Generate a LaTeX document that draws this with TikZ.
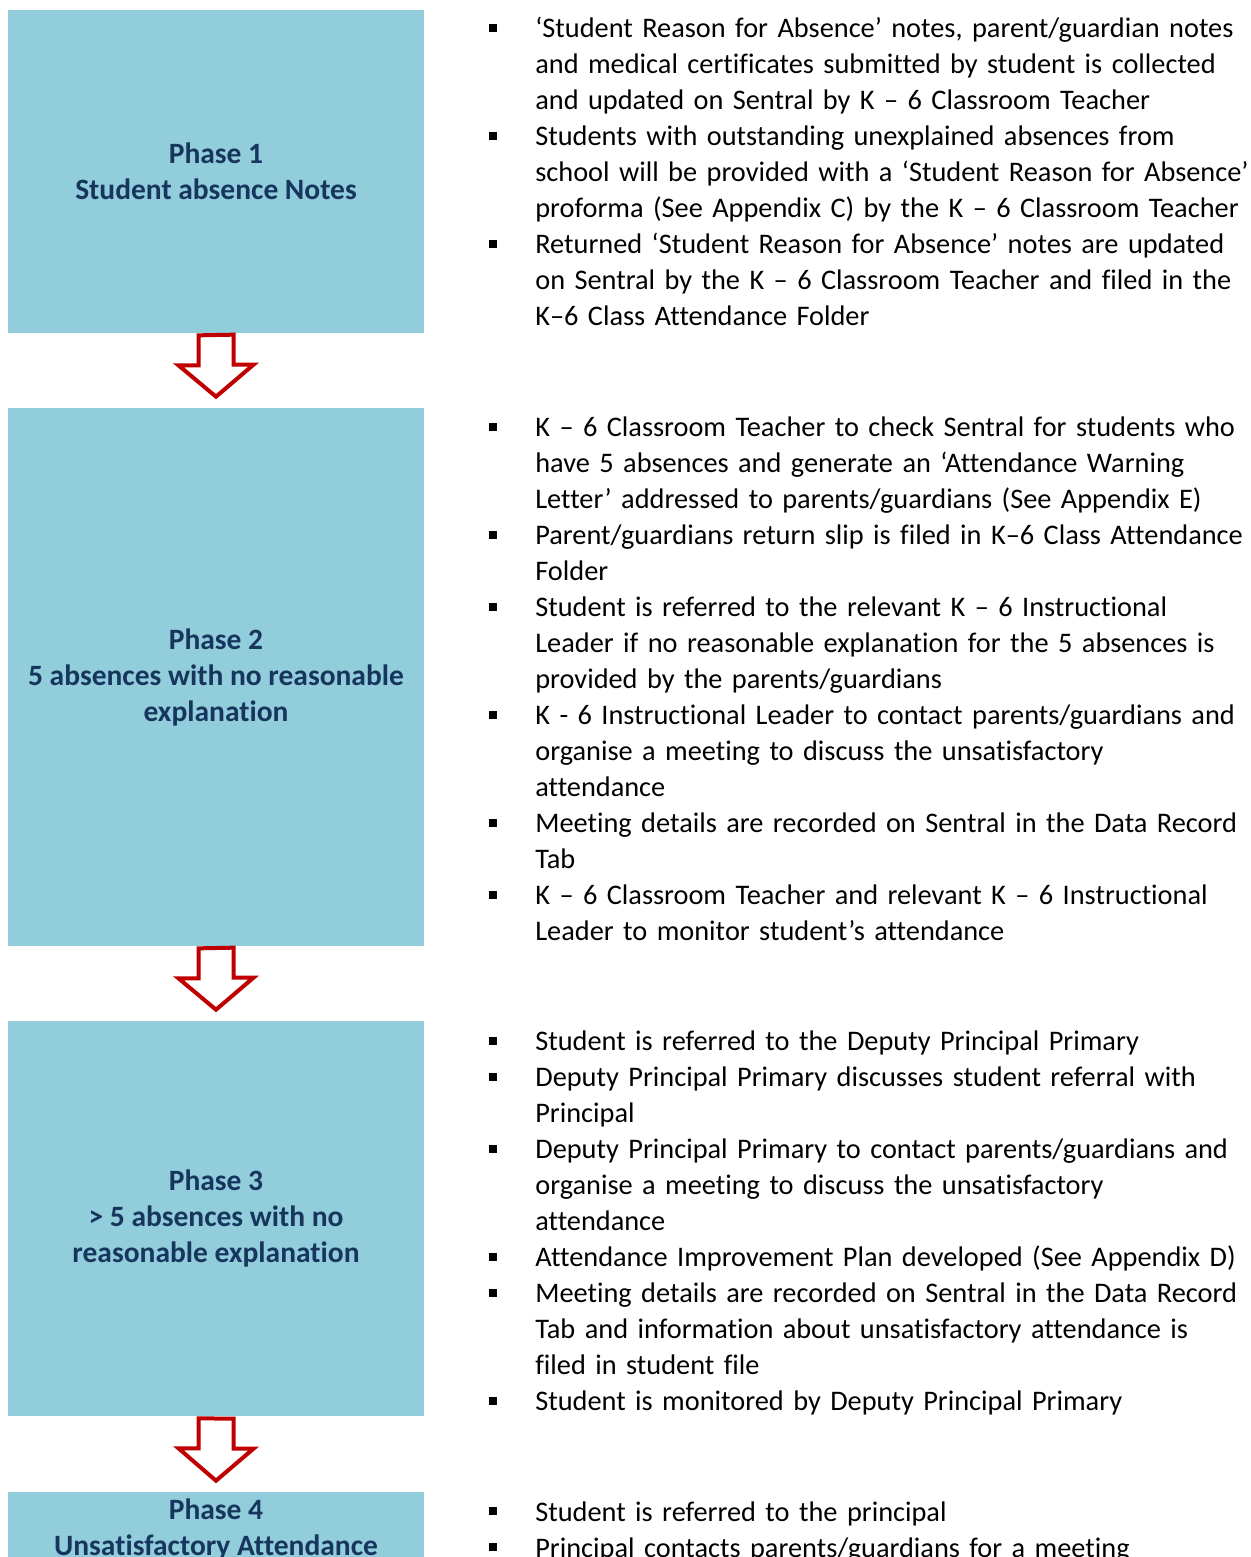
\documentclass[tikz,border=0pt]{standalone}
\usepackage{fontspec}
\setmainfont[Ligatures=NoCommon]{Carlito}
\usepackage{xcolor}
\usetikzlibrary{calc}

\definecolor{phasefill}{HTML}{92CDDC}
\definecolor{phasetext}{HTML}{17365D}
\definecolor{arrowred}{HTML}{C00000}

\newcommand{\sqbullet}{\rule[3.6pt]{4.8pt}{4.8pt}}
\newenvironment{notelist}{\begin{list}{\makebox[27.6pt][l]{\sqbullet}}{%
  \setlength{\leftmargin}{27.6pt}\setlength{\labelwidth}{27.6pt}%
  \setlength{\labelsep}{0pt}\setlength{\itemsep}{0pt}\setlength{\parsep}{0pt}%
  \setlength{\topsep}{0pt}\setlength{\partopsep}{0pt}}}{\end{list}}

\begin{document}
\begin{tikzpicture}[x=0.6pt, y=-0.6pt,
  phase/.style={fill=phasefill, text=phasetext, font=\fontsize{17.7}{21.6}\selectfont\bfseries, align=center, minimum width=249.6pt, inner sep=0pt},
  notes/.style={anchor=north west, text width=520pt, inner sep=0pt, align=left, font=\fontsize{17}{21.6}\selectfont},
  blockarrow/.style={draw=arrowred, fill=white, line width=2.4pt, line join=miter}
]
\useasboundingbox (0,0) rectangle (1250,1557);

% Phase boxes
\node[phase, minimum height=193.8pt] (p1) at (216,171.5) {Phase 1\\Student absence Notes};
\node[phase, minimum height=322.8pt] (p2) at (216,677) {Phase 2\\5 absences with no reasonable\\explanation};
\node[phase, minimum height=237pt] (p3) at (216,1218.5) {Phase 3\\> 5 absences with no\\reasonable explanation};
\node[phase, minimum height=44.4pt] (p4) at (216,1529) {Phase 4\\Unsatisfactory Attendance};

% Notes beside each phase
\node[notes] (n1) at (489,1.5) {\begin{notelist}
\item ‘Student Reason for Absence’ notes, parent/guardian notes\\and medical certificates submitted by student is collected\\and updated on Sentral by K – 6 Classroom Teacher
\item Students with outstanding unexplained absences from\\school will be provided with a ‘Student Reason for Absence’\\proforma (See Appendix C) by the K – 6 Classroom Teacher
\item Returned ‘Student Reason for Absence’ notes are updated\\on Sentral by the K – 6 Classroom Teacher and filed in the\\K–6 Class Attendance Folder
\end{notelist}};

\node[notes] (n2) at (489,400.5) {\begin{notelist}
\item K – 6 Classroom Teacher to check Sentral for students who\\have 5 absences and generate an ‘Attendance Warning\\Letter’ addressed to parents/guardians (See Appendix E)
\item Parent/guardians return slip is filed in K–6 Class Attendance\\Folder
\item Student is referred to the relevant K – 6 Instructional\\Leader if no reasonable explanation for the 5 absences is\\provided by the parents/guardians
\item K - 6 Instructional Leader to contact parents/guardians and\\organise a meeting to discuss the unsatisfactory\\attendance
\item Meeting details are recorded on Sentral in the Data Record\\Tab
\item K – 6 Classroom Teacher and relevant K – 6 Instructional\\Leader to monitor student’s attendance
\end{notelist}};

\node[notes] (n3) at (489,1014.5) {\begin{notelist}
\item Student is referred to the Deputy Principal Primary
\item Deputy Principal Primary discusses student referral with\\Principal
\item Deputy Principal Primary to contact parents/guardians and\\organise a meeting to discuss the unsatisfactory\\attendance
\item Attendance Improvement Plan developed (See Appendix D)
\item Meeting details are recorded on Sentral in the Data Record\\Tab and information about unsatisfactory attendance is\\filed in student file
\item Student is monitored by Deputy Principal Primary
\end{notelist}};

\node[notes] (n4) at (489,1485) {\begin{notelist}
\item Student is referred to the principal
\item Principal contacts parents/guardians for a meeting
\end{notelist}};

% Block arrows
\draw[blockarrow] ($(p1.south)+(-17.5,2)$) -- ++(0,30) -- ++(-20,0) -- ($(p2.north)+(0,-11)$) -- ++(37.5,-32) -- ++(-20,0) -- ++(0,-30) -- cycle;
\draw[blockarrow] ($(p2.south)+(-17.5,2)$) -- ++(0,30) -- ++(-20,0) -- ($(p3.north)+(0,-11)$) -- ++(37.5,-32) -- ++(-20,0) -- ++(0,-30) -- cycle;
\draw[blockarrow] ($(p3.south)+(-17.5,2)$) -- ++(0,30) -- ++(-20,0) -- ($(p4.north)+(0,-11)$) -- ++(37.5,-32) -- ++(-20,0) -- ++(0,-30) -- cycle;

\end{tikzpicture}
\end{document}
